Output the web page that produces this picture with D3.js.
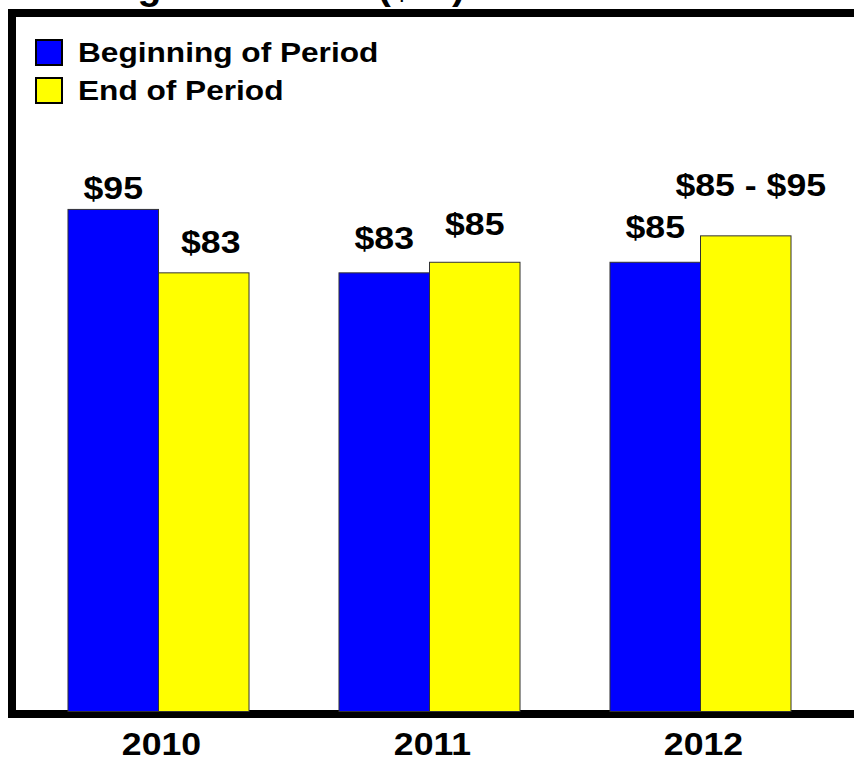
<!DOCTYPE html>
<html>
<head>
<meta charset="utf-8">
<script src="https://cdn.jsdelivr.net/npm/d3@7"></script>
<style>
  html, body { margin: 0; padding: 0; background: #ffffff; }
  svg { display: block; }
  text { font-family: "Liberation Sans", Arial, Helvetica, sans-serif; font-weight: bold; fill: #000; }
</style>
</head>
<body>
<svg id="chart" width="854" height="760"></svg>
<script>
// Oil price assumptions by year, beginning vs end of period ($)
const years = ["2010", "2011", "2012"];
const seriesNames = ["Beginning of Period", "End of Period"];
const beginValues = [95, 83, 85];
// End-of-period values may be a range; the bar sits at the range midpoint
const endLow  = [83, 85, 85];
const endHigh = [83, 85, 95];

// Label nudges [dx, dy] relative to each bar's centre/top
const beginLabelNudge = [[0, -10], [0, -24], [0, -24]];
const endLabelNudge   = [[7, -20], [0, -27], [5, -40]];

const colors = { begin: "#0000ff", end: "#ffff00" };
const stretch = 1.15; // horizontal stretch applied to all text

const svg = d3.select("#chart");

const rows = years.map((y, i) => ({
  year: y,
  bars: [
    { key: "begin", value: beginValues[i], label: "$" + beginValues[i], nudge: beginLabelNudge[i] },
    { key: "end", value: (endLow[i] + endHigh[i]) / 2,
      label: endLow[i] === endHigh[i] ? "$" + endLow[i] : "$" + endLow[i] + " - $" + endHigh[i],
      nudge: endLabelNudge[i] }
  ]
}));

const x = d3.scaleBand().domain(years).range([23, 836]).paddingInner(0.332).paddingOuter(0.166);
const xSub = d3.scaleBand().domain(["begin", "end"]).range([0, x.bandwidth()]);
const y = d3.scaleLinear().domain([0, 100]).range([711.5, 183]);

function stretchedText(sel, px, py, s = stretch) {
  return sel.attr("transform", `translate(${px},${py}) scale(${s},1)`);
}

// Title (runs off the top edge, only descenders show)
stretchedText(svg.append("text"), 61, -1.5, 1.035)
  .attr("font-size", 38)
  .text("Budget Oil Price ($/B)");

// Heavy frame around the plot
svg.append("rect")
  .attr("x", 12).attr("y", 13)
  .attr("width", 900).attr("height", 701)
  .attr("fill", "none").attr("stroke", "#000").attr("stroke-width", 8);

// Bars
const groups = svg.append("g").selectAll("g")
  .data(rows).join("g")
  .attr("transform", d => `translate(${x(d.year)},0)`);

groups.selectAll("rect")
  .data(d => d.bars).join("rect")
  .attr("x", d => xSub(d.key))
  .attr("y", d => y(d.value))
  .attr("width", xSub.bandwidth())
  .attr("height", d => y(0) - y(d.value))
  .attr("fill", d => colors[d.key])
  .attr("stroke", "#333").attr("stroke-width", 1);

// Value labels
groups.selectAll("text.val")
  .data(d => d.bars).join("text")
  .attr("class", "val")
  .attr("font-size", 31)
  .attr("text-anchor", "middle")
  .each(function (d) {
    stretchedText(d3.select(this), xSub(d.key) + xSub.bandwidth() / 2 + d.nudge[0], y(d.value) + d.nudge[1]);
  })
  .text(d => d.label);

// Category axis labels
const xAxis = d3.axisBottom(x).tickSize(0).tickPadding(0);
const axisG = svg.append("g").call(xAxis);
axisG.select(".domain").remove();
axisG.selectAll(".tick text")
  .attr("font-size", 31)
  .attr("font-family", null)
  .attr("fill", "#000")
  .attr("y", null).attr("dy", null)
  .attr("transform", `translate(3,755) scale(${stretch},1)`);

// Legend
const legend = svg.append("g").selectAll("g")
  .data(seriesNames).join("g")
  .attr("transform", (d, i) => `translate(0,${i * 38})`);
legend.append("rect")
  .attr("x", 36).attr("y", 40)
  .attr("width", 26).attr("height", 25)
  .attr("fill", (d, i) => i === 0 ? colors.begin : colors.end)
  .attr("stroke", "#000").attr("stroke-width", 2);
legend.append("text")
  .attr("font-size", 27.5)
  .each(function () { stretchedText(d3.select(this), 78, 62); })
  .text(d => d);
</script>
</body>
</html>
